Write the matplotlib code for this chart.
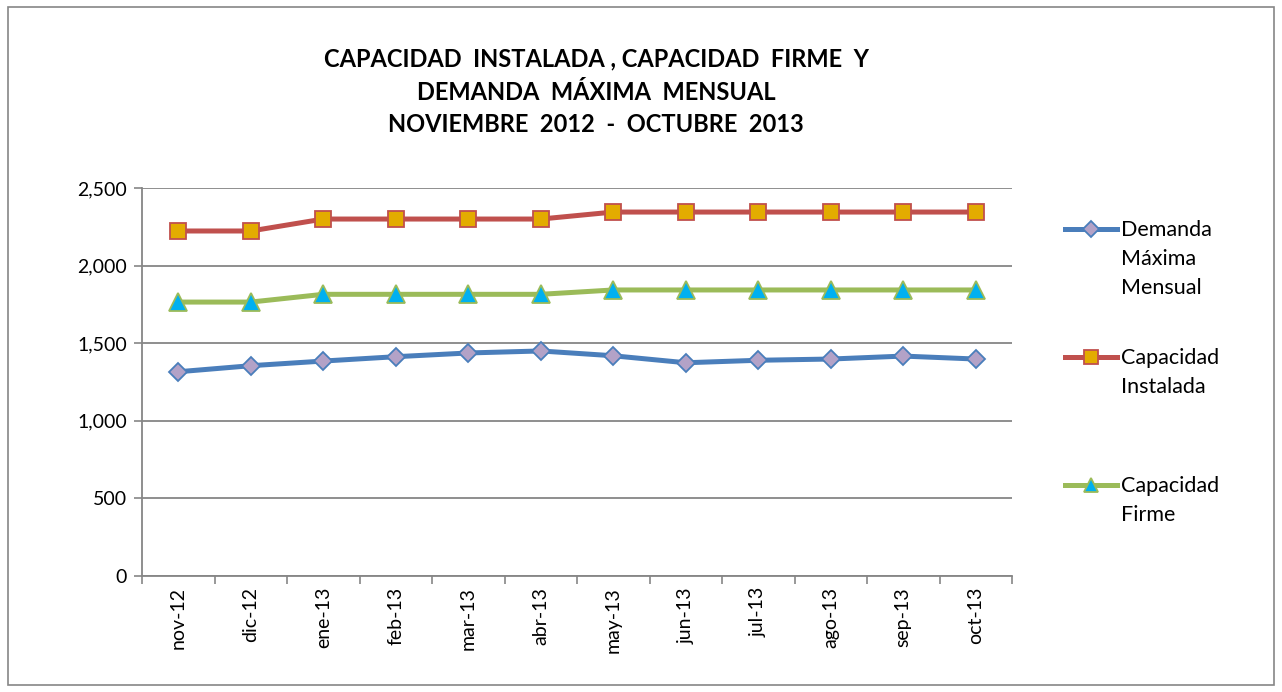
import numpy as np
import matplotlib
matplotlib.use('Agg')
import matplotlib.pyplot as plt
from matplotlib.lines import Line2D
from matplotlib.patches import Rectangle
from matplotlib.ticker import FuncFormatter, FixedLocator

plt.rcParams['font.family'] = ['Lato', 'DejaVu Sans']

months = ['nov-12', 'dic-12', 'ene-13', 'feb-13', 'mar-13', 'abr-13',
          'may-13', 'jun-13', 'jul-13', 'ago-13', 'sep-13', 'oct-13']
demanda = [1316, 1355, 1385, 1413, 1437, 1450, 1419, 1374, 1390, 1398, 1417, 1398]
instalada = [2223, 2223, 2300, 2300, 2300, 2300, 2345, 2345, 2345, 2345, 2345, 2345]
firme = [1765, 1765, 1815, 1815, 1815, 1815, 1843, 1843, 1843, 1843, 1843, 1843]

series = [
    ('Demanda\nMáxima\nMensual', demanda, '#4A7EBB', 'D', '#B3A2C7', 9),
    ('Capacidad\nInstalada', instalada, '#C0504D', 's', '#E3AC00', 12),
    ('Capacidad\nFirme', firme, '#9BBB59', '^', '#00B0F0', 12.5),
]


def main():
    fig = plt.figure(figsize=(12.82, 6.92), dpi=100)
    ax = fig.add_axes([142 / 1282, 1 - 576 / 692, 870 / 1282, 388 / 692])

    x = np.arange(len(months))
    for label, vals, col, mk, fc, ms in series:
        ax.plot(x, vals, color=col, lw=3.6, marker=mk, markersize=ms,
                markerfacecolor=fc, markeredgecolor=col, markeredgewidth=1.3,
                zorder=3)

    ax.set_xlim(-0.5, len(months) - 0.5)
    ax.set_ylim(0, 2500)
    ax.set_yticks(np.arange(0, 2501, 500))
    ax.yaxis.set_major_formatter(FuncFormatter(lambda v, p: f'{int(v):,}'))
    ax.grid(axis='y', color='#868686', lw=1.3)
    ax.set_axisbelow(True)

    ax.set_xticks(x)
    ax.set_xticklabels(months, rotation=90, fontsize=14)
    ax.tick_params(axis='x', length=0, pad=8)
    ax.xaxis.set_minor_locator(FixedLocator(np.arange(-0.5, len(months), 1)))
    ax.tick_params(axis='x', which='minor', length=6, color='#868686', width=1.2)
    ax.tick_params(axis='y', labelsize=14, length=6, color='#868686', width=1.2, pad=5)

    for s in ['top', 'right']:
        ax.spines[s].set_visible(False)
    for s in ['left', 'bottom']:
        ax.spines[s].set_color('#868686')
        ax.spines[s].set_linewidth(1.3)

    fig.text(0.465, 1 - 92 / 692,
             'CAPACIDAD  INSTALADA , CAPACIDAD  FIRME  Y\nDEMANDA  MÁXIMA  MENSUAL\nNOVIEMBRE  2012  -  OCTUBRE  2013',
             ha='center', va='center', fontsize=17, fontweight='bold',
             linespacing=1.52)

    # legend drawn by hand so the handle sits on the first text line
    for i, (label, vals, col, mk, fc, ms) in enumerate(series):
        yy = 1 - (229 + 128 * i) / 692
        fig.add_artist(Line2D([1065 / 1282, 1117 / 1282], [yy, yy], color=col, lw=3.6,
                              transform=fig.transFigure))
        fig.add_artist(Line2D([1091 / 1282], [yy], marker=mk, markersize=ms * 0.85,
                              markerfacecolor=fc, markeredgecolor=col, markeredgewidth=1.3,
                              transform=fig.transFigure))
        fig.text(1121 / 1282, yy + 9 / 692, label, ha='left', va='top', fontsize=15.5,
                 linespacing=1.57)

    fig.add_artist(Rectangle((8 / 1282, 7 / 692), 1266 / 1282, 678 / 692, fill=False,
                             edgecolor='#868686', lw=1.2, transform=fig.transFigure))

    fig.savefig('out.png', dpi=100)


if __name__ == '__main__':
    main()
